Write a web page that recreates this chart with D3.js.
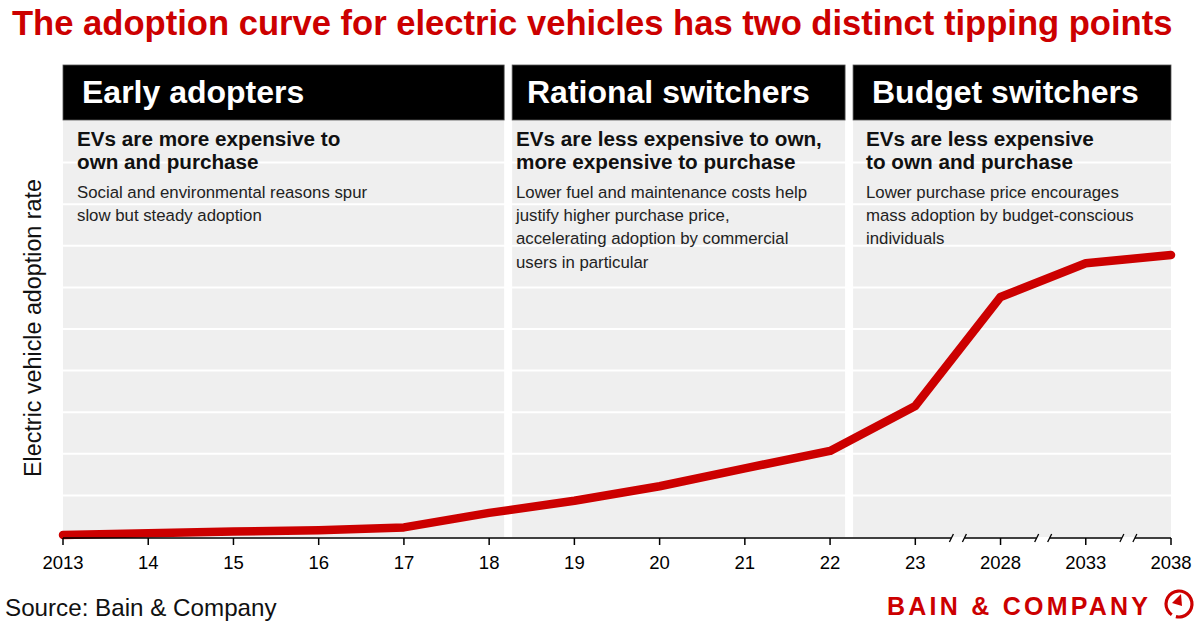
<!DOCTYPE html>
<html>
<head>
<meta charset="utf-8">
<script src="https://cdn.jsdelivr.net/npm/d3@7/dist/d3.min.js"></script>
<style>
  html, body { margin: 0; padding: 0; background: #fff; }
  svg { display: block; font-family: "Liberation Sans", Arial, sans-serif; }
</style>
</head>
<body>
<svg id="chart" width="1200" height="628"></svg>
<script>
// ---- Data ----
const years = ["2013","14","15","16","17","18","19","20","21","22","23","2028","2033","2038"];
const adoption = [0.05, 0.09, 0.13, 0.16, 0.23, 0.58, 0.87, 1.22, 1.65, 2.07, 3.15, 5.77, 6.58, 6.78];
const breakAfter = ["23","2028","2033"]; // axis breaks between these and the next category
const yGridValues = [1,2,3,4,5,6,7,8,9];

const phaseNames = ["Early adopters", "Rational switchers", "Budget switchers"];
const phaseFirst = ["2013", "19", "23"];
const phaseLast = ["18", "22", "2038"];
const phaseHeadlines = [
  ["EVs are more expensive to", "own and purchase"],
  ["EVs are less expensive to own,", "more expensive to purchase"],
  ["EVs are less expensive", "to own and purchase"]
];
const phaseBodies = [
  ["Social and environmental reasons spur", "slow but steady adoption"],
  ["Lower fuel and maintenance costs help", "justify higher purchase price,", "accelerating adoption by commercial", "users in particular"],
  ["Lower purchase price encourages", "mass adoption by budget-conscious", "individuals"]
];

const titleText = "The adoption curve for electric vehicles has two distinct tipping points";
const yLabel = "Electric vehicle adoption rate";
const sourceText = "Source: Bain & Company";
const logoText = "BAIN & COMPANY";

// ---- Layout ----
const RED = "#cc0000";
const x0 = 63, x1 = 1171;
const yBottom = 537, yTop = 121;
const headerTop = 65, headerBottom = 120;
const svg = d3.select("#chart");

const x = d3.scalePoint().domain(years).range([x0, x1]);
const y = d3.scaleLinear().domain([0, 10]).range([yBottom, yTop]);
const step = x.step();

// Title
svg.append("text")
  .attr("x", 12).attr("y", 35)
  .attr("fill", RED).attr("font-weight", "bold").attr("font-size", 34.6)
  .text(titleText);

// Panels
const phases = phaseNames.map((name, i) => ({
  name, first: phaseFirst[i], last: phaseLast[i],
  head: phaseHeadlines[i], body: phaseBodies[i], i
}));
const leftEdge = d => d.i === 0 ? x0 : x(d.first) - step + 23;
const rightEdge = d => d.i === phases.length - 1 ? x1 : x(d.last) + 15;
const headX = [82, 527, 872];
const textX = [77, 516, 866];

const pg = svg.append("g");
pg.selectAll("rect.bg").data(phases).join("rect")
  .attr("class", "bg")
  .attr("x", leftEdge).attr("y", headerBottom)
  .attr("width", d => rightEdge(d) - leftEdge(d))
  .attr("height", yBottom - headerBottom)
  .attr("fill", "#efefef");

// white gridlines
svg.append("g").selectAll("line").data(yGridValues).join("line")
  .attr("x1", x0).attr("x2", x1)
  .attr("y1", d => y(d)).attr("y2", d => y(d))
  .attr("stroke", "#fff").attr("stroke-width", 2);

// headers
pg.selectAll("rect.hd").data(phases).join("rect")
  .attr("class", "hd")
  .attr("x", leftEdge).attr("y", headerTop)
  .attr("width", d => rightEdge(d) - leftEdge(d))
  .attr("height", headerBottom - headerTop)
  .attr("fill", "#000").attr("stroke", "#555").attr("stroke-width", 0.8);

pg.selectAll("text.hd").data(phases).join("text")
  .attr("class", "hd")
  .attr("x", d => headX[d.i]).attr("y", 103)
  .attr("fill", "#fff").attr("font-weight", "bold").attr("font-size", 32)
  .text(d => d.name);

phases.forEach(d => {
  d.head.forEach((t, j) => {
    svg.append("text").attr("x", textX[d.i]).attr("y", 146 + j * 23)
      .attr("font-weight", "bold").attr("font-size", 20.7).attr("fill", "#111")
      .text(t);
  });
  d.body.forEach((t, j) => {
    svg.append("text").attr("x", textX[d.i]).attr("y", 198 + j * 23.2)
      .attr("font-size", 16.8).attr("fill", "#222")
      .text(t);
  });
});

// Line
const pts = years.map((yr, i) => [x(yr), y(adoption[i])]);
svg.append("path")
  .attr("d", d3.line()(pts))
  .attr("fill", "none").attr("stroke", RED)
  .attr("stroke-width", 8.5)
  .attr("stroke-linecap", "round").attr("stroke-linejoin", "round");

// X axis with breaks
const ax = svg.append("g").attr("transform", `translate(0,${yBottom + 1})`);
const gap = 6.5;
const breaks = breakAfter.map(b => x(b) + step / 2);
let segStart = x0;
const segs = [];
breaks.forEach(b => { segs.push([segStart, b - gap]); segStart = b + gap; });
segs.push([segStart, x1]);
ax.selectAll("line.seg").data(segs).join("line")
  .attr("x1", d => d[0]).attr("x2", d => d[1])
  .attr("stroke", "#000").attr("stroke-width", 1.5);
const slashes = [];
breaks.forEach(b => { slashes.push(b - gap); slashes.push(b + gap); });
ax.selectAll("line.sl").data(slashes).join("line")
  .attr("x1", d => d - 2).attr("x2", d => d + 2)
  .attr("y1", 4).attr("y2", -4)
  .attr("stroke", "#000").attr("stroke-width", 1.3);
ax.selectAll("line.tk").data(years).join("line")
  .attr("x1", d => x(d)).attr("x2", d => x(d))
  .attr("y1", 0).attr("y2", 7)
  .attr("stroke", "#000").attr("stroke-width", 1.5);
ax.selectAll("text").data(years).join("text")
  .attr("x", d => x(d)).attr("y", 31)
  .attr("text-anchor", "middle").attr("font-size", 18.5).attr("fill", "#000")
  .text(d => d);

// Y label
svg.append("text")
  .attr("transform", "translate(41,328) rotate(-90)")
  .attr("text-anchor", "middle").attr("font-size", 23.3).attr("fill", "#111")
  .text(yLabel);

// Source
svg.append("text").attr("x", 5).attr("y", 616)
  .attr("font-size", 24.2).attr("fill", "#111").text(sourceText);

// Logo
svg.append("text").attr("x", 887).attr("y", 615)
  .attr("font-size", 25).attr("font-weight", "bold").attr("fill", RED)
  .attr("textLength", 261).attr("lengthAdjust", "spacing")
  .text(logoText);
const cx = 1179, cy = 604, r = 13;
const arc = d3.arc().innerRadius(r - 1.6).outerRadius(r + 1.6)
  .startAngle(-2.55).endAngle(-2.55 + Math.PI * 2 - 0.35);
svg.append("path").attr("transform", `translate(${cx},${cy})`)
  .attr("d", arc()).attr("fill", RED);
svg.append("path")
  .attr("d", `M${cx - 7},${cy - 1} L${cx + 2},${cy - 10} L${cx + 3},${cy + 2} Z`)
  .attr("fill", RED);
</script>
</body>
</html>
